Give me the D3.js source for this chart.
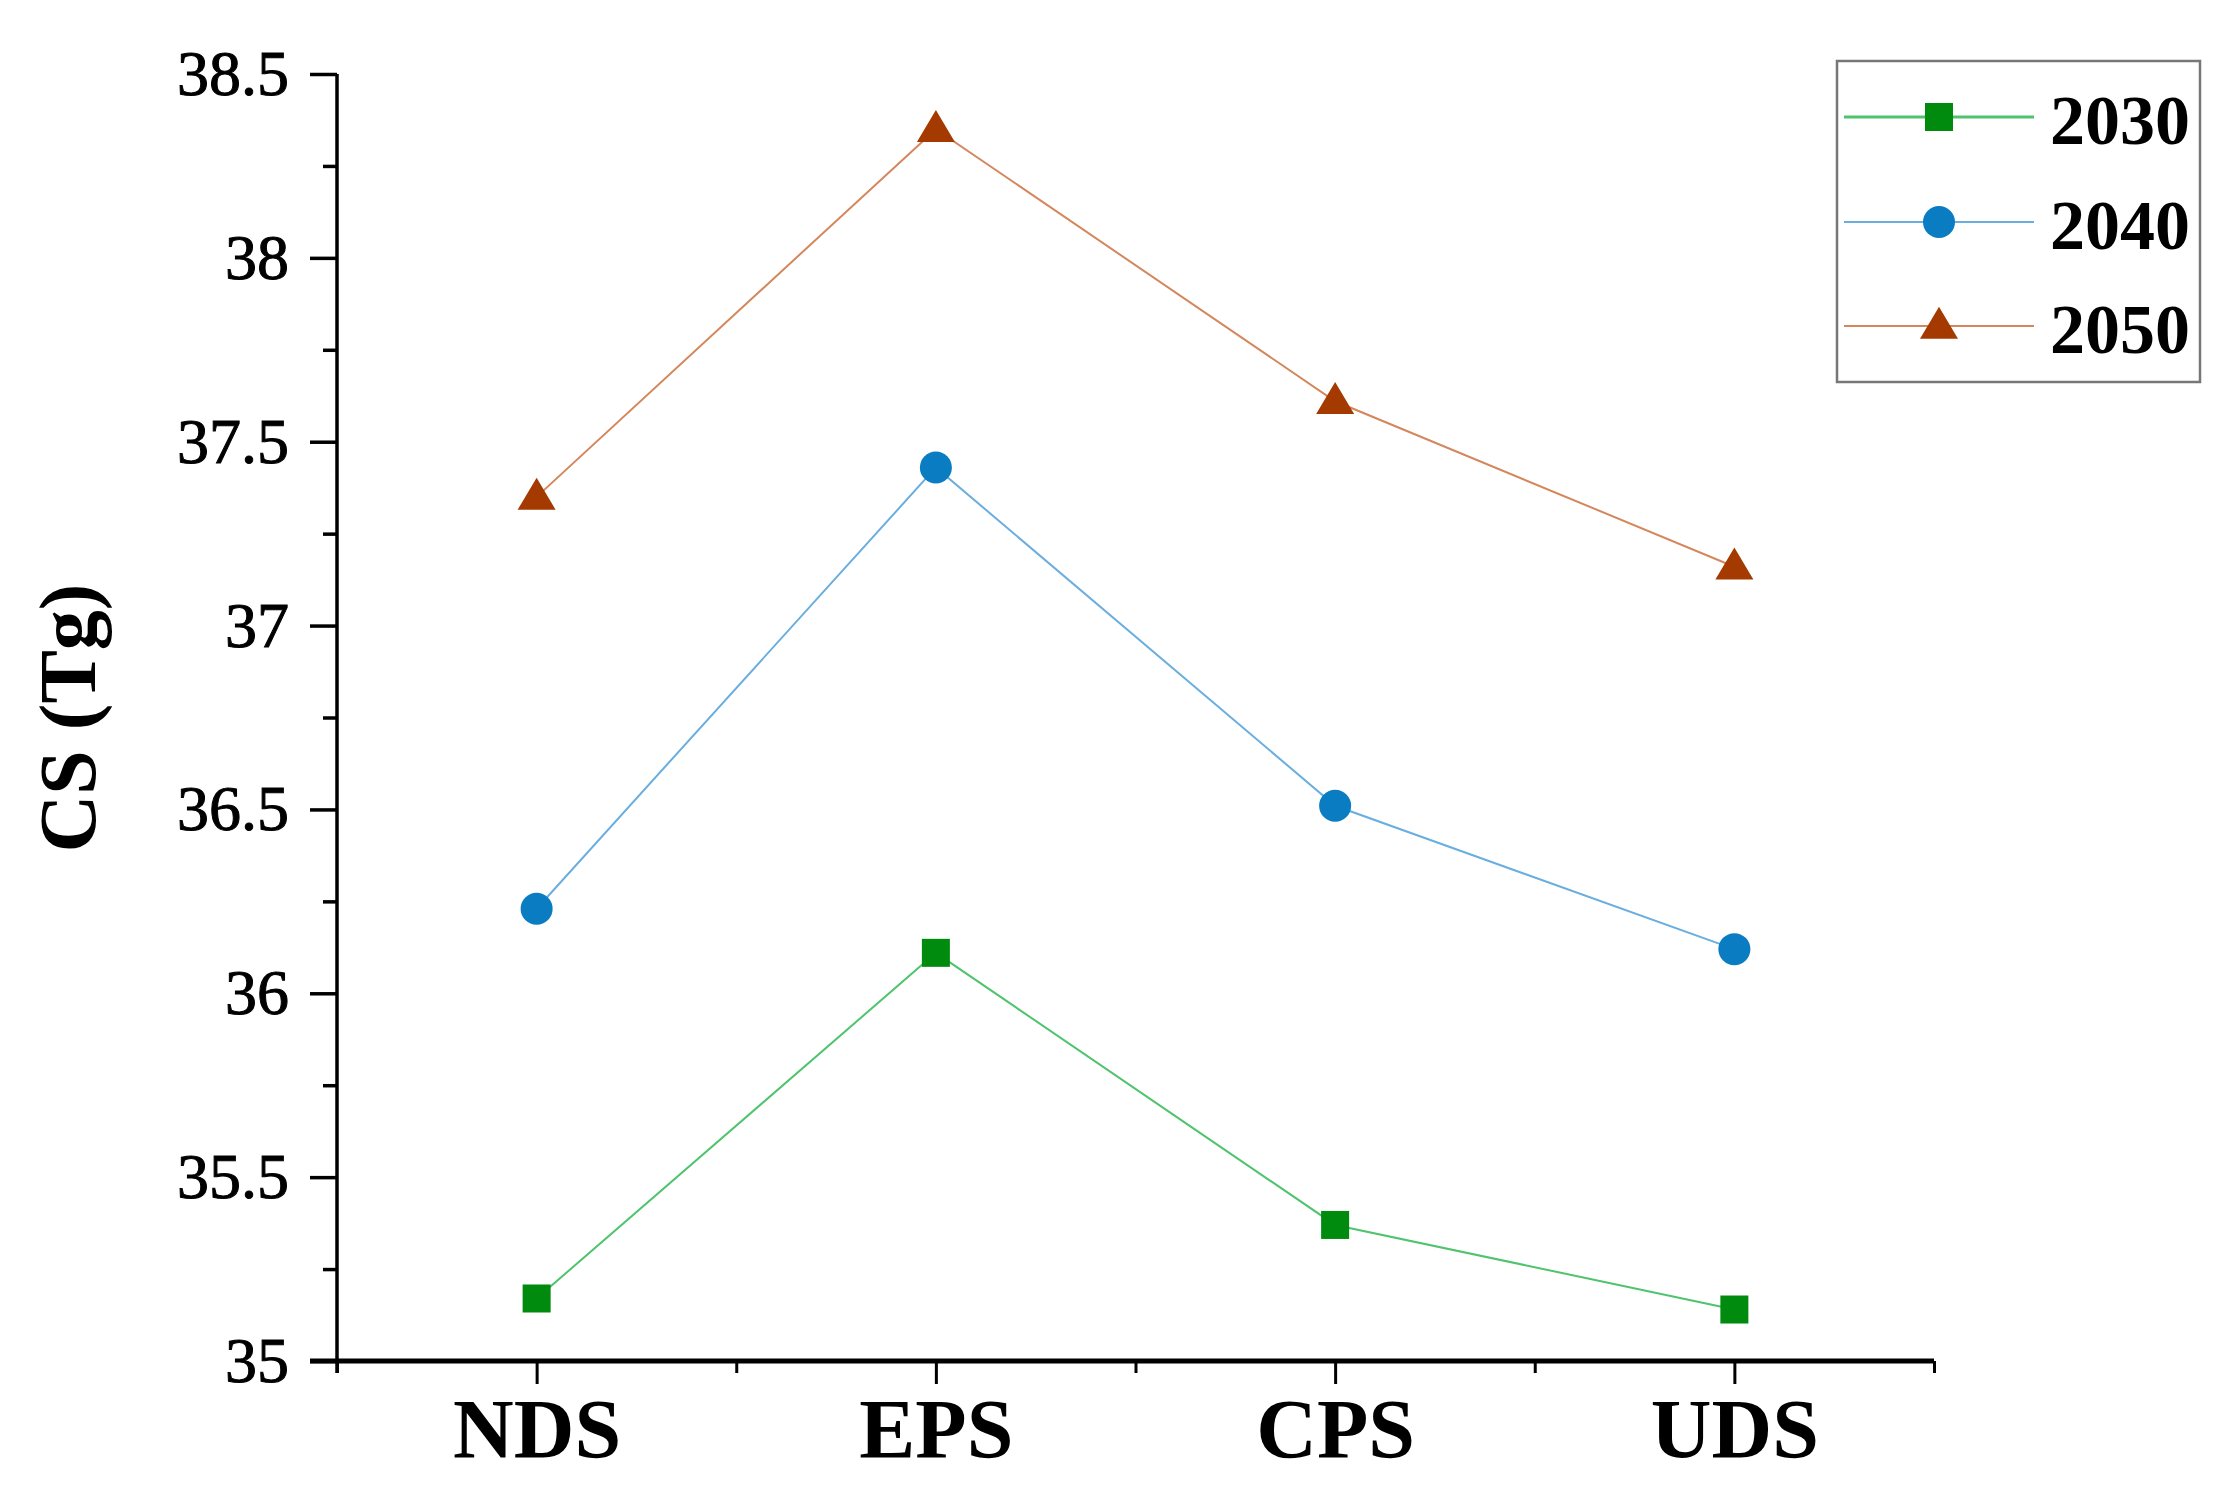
<!DOCTYPE html>
<html><head><meta charset="utf-8">
<script src="https://cdn.jsdelivr.net/npm/d3@7"></script>
<style>html,body{margin:0;padding:0;background:#fff;}</style>
</head><body>
<script>
const categories = ["NDS", "EPS", "CPS", "UDS"];
const seriesNames = ["2030", "2040", "2050"];
const values2030 = [35.17, 36.11, 35.37, 35.14];
const values2040 = [36.23, 37.43, 36.51, 36.12];
const values2050 = [37.35, 38.35, 37.61, 37.16];
const yMajorTicks = [35, 35.5, 36, 36.5, 37, 37.5, 38, 38.5];
const yTickLabels = ["35", "35.5", "36", "36.5", "37", "37.5", "38", "38.5"];

const W = 2226, H = 1502;
const svg = d3.select("body").append("svg").attr("width", W).attr("height", H);
const font = "'Liberation Serif', 'Times New Roman', serif";

const x = d3.scaleLinear().domain([0, 4]).range([337, 1934]);
const y = d3.scaleLinear().domain([35, 38.5]).range([1361, 74]);

const series = [
  {name: seriesNames[0], values: values2030, line: "#4fc36e", fill: "#008a0e", shape: "square"},
  {name: seriesNames[1], values: values2040, line: "#6aaee0", fill: "#0a7cc2", shape: "circle"},
  {name: seriesNames[2], values: values2050, line: "#d4875c", fill: "#a43a00", shape: "triangle"}
];

// Y axis minor
const yMinor = d3.range(35.25, 38.5, 0.5);
svg.append("g").attr("transform", `translate(${x(0)},0)`)
  .call(d3.axisLeft(y).tickValues(yMinor).tickSize(14).tickFormat(""))
  .call(g => g.select(".domain").remove())
  .call(g => g.selectAll("line").attr("stroke", "#000").attr("stroke-width", 3.5));
// Y axis major
svg.append("g").attr("transform", `translate(${x(0)},0)`)
  .call(d3.axisLeft(y).tickValues(yMajorTicks).tickSize(27).tickSizeOuter(0).tickPadding(21)
    .tickFormat((d, i) => yTickLabels[i]))
  .call(g => g.select(".domain").attr("stroke", "#000").attr("stroke-width", 3.5)
    .attr("d", `M0,${y(38.5)}V${y(35) + 12}`))
  .call(g => g.selectAll("line").attr("stroke", "#000").attr("stroke-width", 3.5))
  .call(g => g.selectAll("text").attr("font-family", font).attr("font-size", 64).attr("fill", "#000")
    .attr("stroke", "#000").attr("stroke-width", 1));

// X axis minor (boundaries)
svg.append("g").attr("transform", `translate(0,${y(35)})`)
  .call(d3.axisBottom(x).tickValues([0, 1, 2, 3, 4]).tickSize(12).tickFormat(""))
  .call(g => g.select(".domain").remove())
  .call(g => g.selectAll("line").attr("stroke", "#000").attr("stroke-width", 3));
// X axis major (categories)
svg.append("g").attr("transform", `translate(0,${y(35)})`)
  .call(d3.axisBottom(x).tickValues([0.5, 1.5, 2.5, 3.5]).tickSize(23).tickSizeOuter(0).tickPadding(14)
    .tickFormat((d, i) => categories[i]))
  .call(g => g.select(".domain").attr("stroke", "#000").attr("stroke-width", 5)
    .attr("d", `M${x(0) - 27},0H${x(4)}`))
  .call(g => g.selectAll("line").attr("stroke", "#000").attr("stroke-width", 3))
  .call(g => g.selectAll("text").attr("font-family", font).attr("font-size", 84)
    .attr("font-weight", "bold").attr("fill", "#000"));

// Y title
svg.append("text")
  .attr("transform", `translate(95,718) rotate(-90)`)
  .attr("text-anchor", "middle")
  .attr("font-family", font).attr("font-size", 80).attr("font-weight", "bold")
  .text("CS (Tg)");

const line = d3.line().x((d, i) => x(i + 0.5)).y(d => y(d));

function drawMarker(g, shape, cx, cy, fill) {
  if (shape === "square") {
    g.append("rect").attr("x", cx - 14).attr("y", cy - 14).attr("width", 28).attr("height", 28).attr("fill", fill);
  } else if (shape === "circle") {
    g.append("circle").attr("cx", cx).attr("cy", cy).attr("r", 16).attr("fill", fill);
  } else {
    const h = 32, w = 38;
    g.append("path").attr("d", `M${cx},${cy - h * 0.6}L${cx + w / 2},${cy + h * 0.4}L${cx - w / 2},${cy + h * 0.4}Z`).attr("fill", fill);
  }
}

series.forEach(s => {
  const g = svg.append("g");
  g.append("path").datum(s.values).attr("d", line).attr("fill", "none")
    .attr("stroke", s.line).attr("stroke-width", 2);
  s.values.forEach((v, i) => drawMarker(g, s.shape, x(i + 0.5), y(v), s.fill));
});

// Legend
const lg = svg.append("g");
lg.append("rect").attr("x", 1837).attr("y", 61).attr("width", 363).attr("height", 321)
  .attr("fill", "#fff").attr("stroke", "#777").attr("stroke-width", 2.5);
const rowY = [117, 222, 326];
series.forEach((s, i) => {
  lg.append("line").attr("x1", 1844).attr("x2", 2034).attr("y1", rowY[i]).attr("y2", rowY[i])
    .attr("stroke", s.line).attr("stroke-width", s.shape === "square" ? 3 : 2);
  drawMarker(lg, s.shape, 1939, rowY[i], s.fill);
  lg.append("text").attr("x", 2050).attr("y", rowY[i] + 27)
    .attr("font-family", font).attr("font-size", 70).attr("font-weight", "bold").text(s.name);
});
</script>
</body></html>
